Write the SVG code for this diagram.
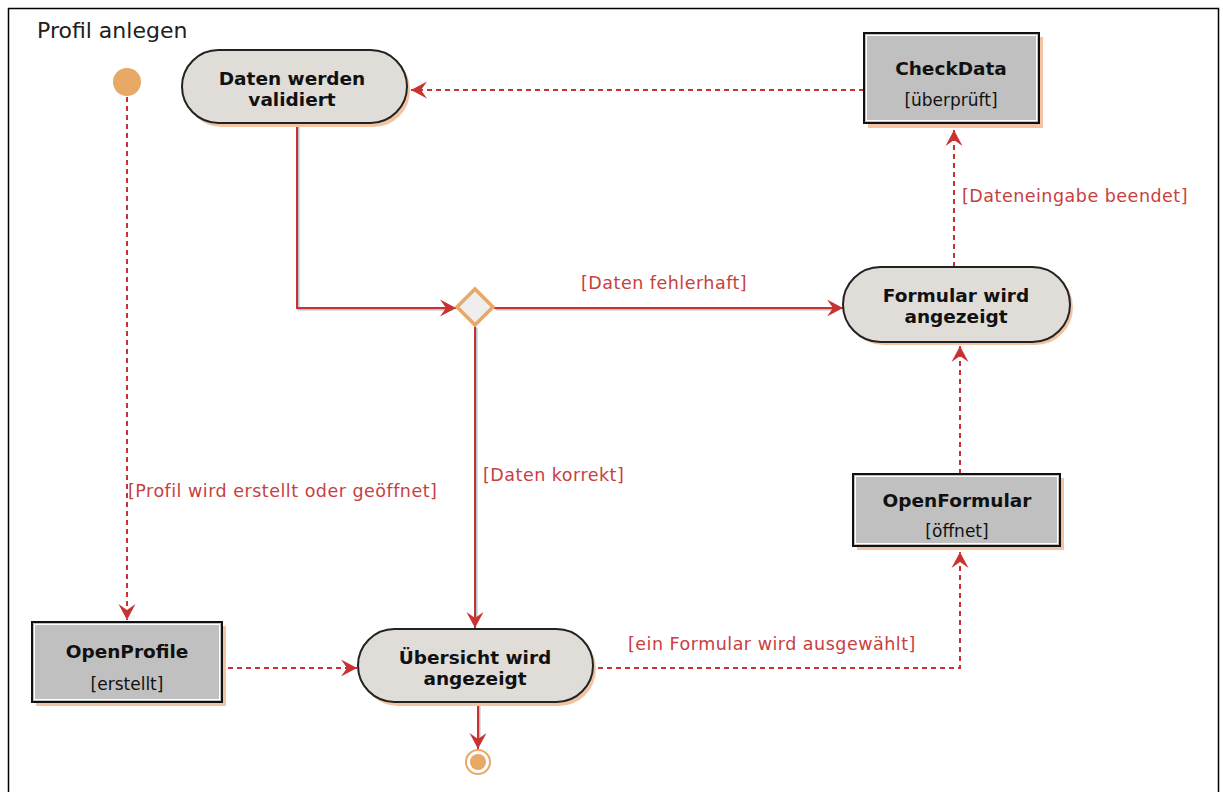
<svg xmlns="http://www.w3.org/2000/svg" width="1223" height="792" viewBox="0 0 1223 792">
  <style>
    .title { font-family: "DejaVu Sans", "Liberation Sans", sans-serif; font-size: 22px; fill: #202020; }
    .name { font-family: "DejaVu Sans", "Liberation Sans", sans-serif; font-size: 18.5px; font-weight: bold; fill: #111; text-anchor: middle; }
    .state { font-family: "DejaVu Sans", "Liberation Sans", sans-serif; font-size: 17px; fill: #111; text-anchor: middle; }
    .guard { font-family: "DejaVu Sans", "Liberation Sans", sans-serif; font-size: 17.5px; letter-spacing: 0.5px; fill: #c84040; }
    .act { fill: #e0ddd8; stroke: #222; stroke-width: 2; }
    .obj { fill: #c0c0c0; stroke: #111; stroke-width: 2; }
    .objIn { fill: none; stroke: #ffffff; stroke-width: 1; }
    .shadow { fill: #f2c4a4; }
    .flow { fill: none; stroke: #c83232; stroke-width: 2; }
    .flowShade { fill: none; stroke: #b8c0c8; stroke-width: 2; }
    .dash { fill: none; stroke: #c83232; stroke-width: 2; stroke-dasharray: 5 4; }
  </style>
  <defs>
    <marker id="arrow" viewBox="-18 -10 20 20" refX="0" refY="0" markerWidth="20" markerHeight="20" markerUnits="userSpaceOnUse" orient="auto">
      <path d="M0,0 L-16,-8.5 L-10,0 L-16,8.5 Z" fill="#c83232"/>
    </marker>
  </defs>

  <!-- frame -->
  <rect x="8.5" y="8.5" width="1210" height="800" fill="#ffffff" stroke="#000" stroke-width="1.5"/>
  <text class="title" x="37" y="38">Profil anlegen</text>

  <!-- connectors -->
  <g id="connectors">
    <!-- solid control flows with their grey shade -->
    <g transform="translate(1.5,1.5)">
      <polyline class="flowShade" points="297,124 297,308 452,308"/>
      <line class="flowShade" x1="494" y1="308" x2="835" y2="308"/>
      <line class="flowShade" x1="475" y1="326" x2="475" y2="620"/>
      <line class="flowShade" x1="478" y1="704" x2="478" y2="742"/>
    </g>
    <polyline class="flow" points="297,124 297,308 456,308" marker-end="url(#arrow)"/>
    <line class="flow" x1="494" y1="308" x2="843" y2="308" marker-end="url(#arrow)"/>
    <line class="flow" x1="475" y1="326" x2="475" y2="628" marker-end="url(#arrow)"/>
    <line class="flow" x1="478" y1="704" x2="478" y2="749" marker-end="url(#arrow)"/>

    <!-- dashed object flows -->
    <line class="dash" x1="127" y1="97" x2="127" y2="620" marker-end="url(#arrow)"/>
    <line class="dash" x1="228" y1="668" x2="357" y2="668" marker-end="url(#arrow)"/>
    <polyline class="dash" points="598,668 960,668 960,552" marker-end="url(#arrow)"/>
    <line class="dash" x1="960" y1="474" x2="960" y2="346" marker-end="url(#arrow)"/>
    <line class="dash" x1="954" y1="267" x2="954" y2="130" marker-end="url(#arrow)"/>
    <line class="dash" x1="864" y1="90" x2="411" y2="90" marker-end="url(#arrow)"/>

    <!-- guards -->
    <text class="guard" x="128" y="497">[Profil wird erstellt oder geöffnet]</text>
    <text class="guard" x="581" y="289">[Daten fehlerhaft]</text>
    <text class="guard" x="483" y="481">[Daten korrekt]</text>
    <text class="guard" x="628" y="650">[ein Formular wird ausgewählt]</text>
    <text class="guard" x="962" y="202">[Dateneingabe beendet]</text>
  </g>

  <!-- initial node -->
  <g id="start">
    <circle cx="127" cy="82" r="14" fill="#e8a866"/>
  </g>

  <!-- final node -->
  <g id="end">
    <circle cx="478" cy="762" r="12" fill="#ffffff" stroke="#e8a866" stroke-width="2"/>
    <circle cx="478" cy="762" r="8" fill="#e8a866"/>
  </g>

  <!-- Daten werden validiert -->
  <g id="validate">
    <rect class="shadow" x="185" y="53" width="225" height="74" rx="36.5"/>
    <rect class="act" x="182" y="50" width="225" height="73" rx="36.5"/>
    <text class="name" x="292" y="85">Daten werden</text>
    <text class="name" x="292" y="106">validiert</text>
  </g>

  <!-- CheckData -->
  <g id="checkdata">
    <rect class="shadow" x="868" y="37" width="175" height="91"/>
    <rect class="obj" x="864" y="33" width="175" height="90"/>
    <rect class="objIn" x="866.5" y="35.5" width="170" height="85"/>
    <text class="name" x="951" y="75">CheckData</text>
    <text class="state" x="951" y="106">[überprüft]</text>
  </g>

  <!-- Formular wird angezeigt -->
  <g id="formShown">
    <rect class="shadow" x="846" y="270" width="227" height="75" rx="37.5"/>
    <rect class="act" x="843" y="267" width="227" height="75" rx="37.5"/>
    <text class="name" x="956" y="302">Formular wird</text>
    <text class="name" x="956" y="323">angezeigt</text>
  </g>

  <!-- decision -->
  <g id="decision">
    <polygon points="475,289 493,307 475,325 457,307" fill="#eeeeee" stroke="#e8a866" stroke-width="3.5"/>
  </g>

  <!-- OpenFormular -->
  <g id="openFormular">
    <rect class="shadow" x="857" y="478" width="207" height="72"/>
    <rect class="obj" x="853" y="474" width="207" height="72"/>
    <rect class="objIn" x="855.5" y="476.5" width="202" height="67"/>
    <text class="name" x="957" y="507">OpenFormular</text>
    <text class="state" x="957" y="537">[öffnet]</text>
  </g>

  <!-- OpenProfile -->
  <g id="openProfile">
    <rect class="shadow" x="36" y="626" width="190" height="80"/>
    <rect class="obj" x="32" y="622" width="190" height="80"/>
    <rect class="objIn" x="34.5" y="624.5" width="185" height="75"/>
    <text class="name" x="127" y="658">OpenProfile</text>
    <text class="state" x="127" y="690">[erstellt]</text>
  </g>

  <!-- Übersicht wird angezeigt -->
  <g id="overview">
    <rect class="shadow" x="361" y="632" width="235" height="74" rx="37"/>
    <rect class="act" x="358" y="629" width="235" height="73" rx="36.5"/>
    <text class="name" x="475" y="664">Übersicht wird</text>
    <text class="name" x="475" y="685">angezeigt</text>
  </g>
</svg>
